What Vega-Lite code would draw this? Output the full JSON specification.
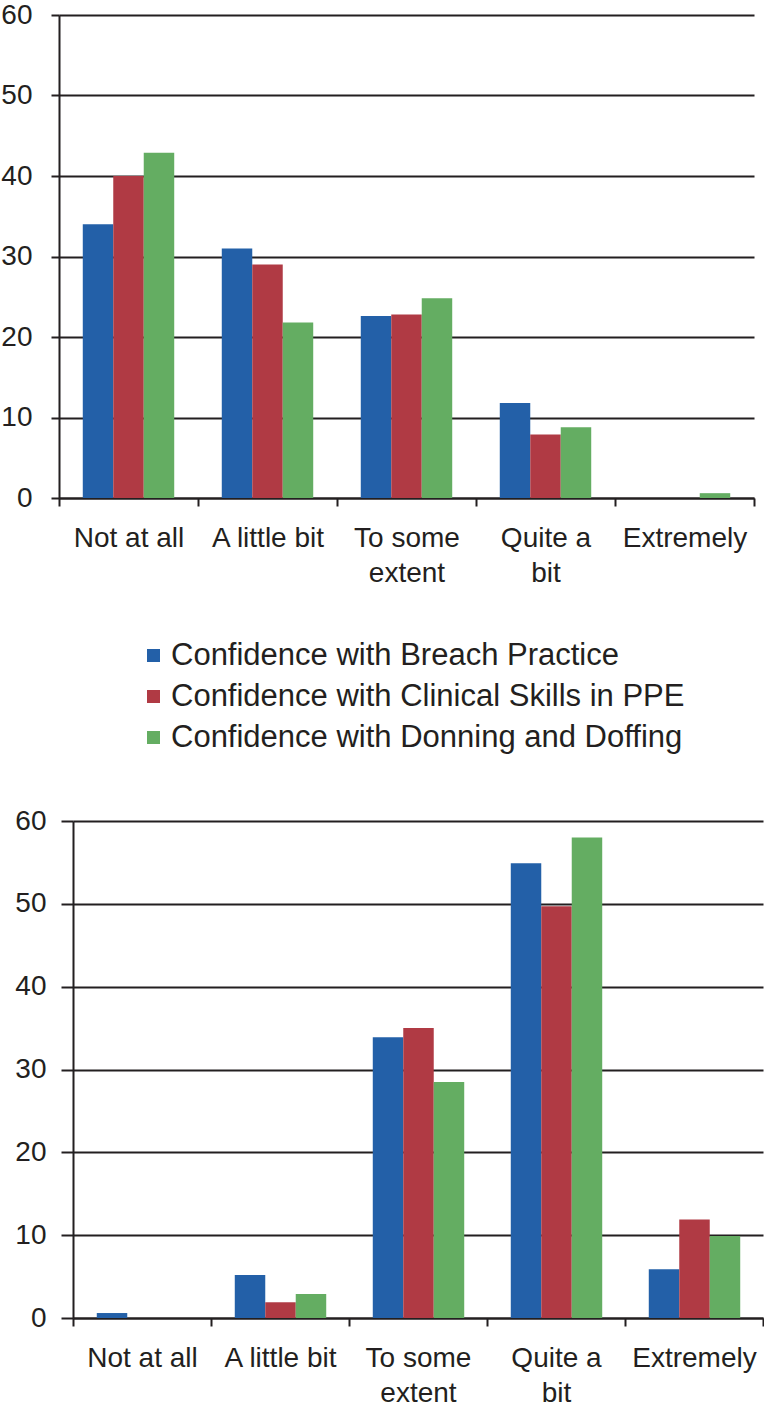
{
  "$schema": "https://vega.github.io/schema/vega-lite/v6.json",
  "background": "white",
  "padding": {"top": 1, "left": 0, "right": 0, "bottom": 0},
  "spacing": 54,
  "config": {
    "font": "Liberation Sans",
    "view": {"stroke": null},
    "axis": {
      "labelFont": "Liberation Sans",
      "labelFontSize": 28,
      "labelColor": "#231f20",
      "domainColor": "#231f20",
      "tickColor": "#231f20",
      "gridColor": "#231f20",
      "domainWidth": 2,
      "tickWidth": 2,
      "gridWidth": 2,
      "gridOpacity": 1,
      "title": null
    },
    "legend": {"labelFont": "Liberation Sans"}
  },
  "datasets": {
    "survey": [
      {"panel": "A", "level": "Not at all", "series": "Confidence with Breach Practice", "pct": 34.0},
      {"panel": "A", "level": "Not at all", "series": "Confidence with Clinical Skills in PPE", "pct": 40.0},
      {"panel": "A", "level": "Not at all", "series": "Confidence with Donning and Doffing", "pct": 42.9},
      {"panel": "A", "level": "A little bit", "series": "Confidence with Breach Practice", "pct": 31.0},
      {"panel": "A", "level": "A little bit", "series": "Confidence with Clinical Skills in PPE", "pct": 29.0},
      {"panel": "A", "level": "A little bit", "series": "Confidence with Donning and Doffing", "pct": 21.8},
      {"panel": "A", "level": "To some extent", "series": "Confidence with Breach Practice", "pct": 22.6},
      {"panel": "A", "level": "To some extent", "series": "Confidence with Clinical Skills in PPE", "pct": 22.8},
      {"panel": "A", "level": "To some extent", "series": "Confidence with Donning and Doffing", "pct": 24.8},
      {"panel": "A", "level": "Quite a bit", "series": "Confidence with Breach Practice", "pct": 11.8},
      {"panel": "A", "level": "Quite a bit", "series": "Confidence with Clinical Skills in PPE", "pct": 7.9},
      {"panel": "A", "level": "Quite a bit", "series": "Confidence with Donning and Doffing", "pct": 8.8},
      {"panel": "A", "level": "Extremely", "series": "Confidence with Breach Practice", "pct": 0},
      {"panel": "A", "level": "Extremely", "series": "Confidence with Clinical Skills in PPE", "pct": 0},
      {"panel": "A", "level": "Extremely", "series": "Confidence with Donning and Doffing", "pct": 0.6},
      {"panel": "B", "level": "Not at all", "series": "Confidence with Breach Practice", "pct": 0.6},
      {"panel": "B", "level": "Not at all", "series": "Confidence with Clinical Skills in PPE", "pct": 0},
      {"panel": "B", "level": "Not at all", "series": "Confidence with Donning and Doffing", "pct": 0},
      {"panel": "B", "level": "A little bit", "series": "Confidence with Breach Practice", "pct": 5.2},
      {"panel": "B", "level": "A little bit", "series": "Confidence with Clinical Skills in PPE", "pct": 1.9},
      {"panel": "B", "level": "A little bit", "series": "Confidence with Donning and Doffing", "pct": 2.9},
      {"panel": "B", "level": "To some extent", "series": "Confidence with Breach Practice", "pct": 33.9},
      {"panel": "B", "level": "To some extent", "series": "Confidence with Clinical Skills in PPE", "pct": 35.0},
      {"panel": "B", "level": "To some extent", "series": "Confidence with Donning and Doffing", "pct": 28.5},
      {"panel": "B", "level": "Quite a bit", "series": "Confidence with Breach Practice", "pct": 54.9},
      {"panel": "B", "level": "Quite a bit", "series": "Confidence with Clinical Skills in PPE", "pct": 49.7},
      {"panel": "B", "level": "Quite a bit", "series": "Confidence with Donning and Doffing", "pct": 58.0},
      {"panel": "B", "level": "Extremely", "series": "Confidence with Breach Practice", "pct": 5.9},
      {"panel": "B", "level": "Extremely", "series": "Confidence with Clinical Skills in PPE", "pct": 11.9},
      {"panel": "B", "level": "Extremely", "series": "Confidence with Donning and Doffing", "pct": 9.9}
    ]
  },
  "vconcat": [
    {
      "width": 695,
      "height": 483,
      "data": {"name": "survey"},
      "transform": [{"filter": "datum.panel == 'A'"}],
      "mark": {"type": "bar"},
      "encoding": {
        "x": {
          "field": "level", "type": "nominal",
          "sort": ["Not at all", "A little bit", "To some extent", "Quite a bit", "Extremely"],
          "scale": {"paddingInner": 0, "paddingOuter": 0},
          "axis": {
            "labelAngle": 0, "tickBand": "extent", "tickSize": 8, "labelPadding": 18,
            "labelLineHeight": 35,
            "labelExpr": "datum.label == 'To some extent' ? ['To some', 'extent'] : datum.label == 'Quite a bit' ? ['Quite a', 'bit'] : datum.label"
          }
        },
        "xOffset": {
          "field": "series", "type": "nominal",
          "scale": {"paddingInner": 0, "paddingOuter": 0.78}
        },
        "y": {
          "field": "pct", "type": "quantitative",
          "scale": {"domain": [0, 60], "nice": false},
          "axis": {"values": [0, 10, 20, 30, 40, 50, 60], "tickSize": 8, "labelPadding": 19, "grid": true}
        },
        "color": {
          "field": "series", "type": "nominal",
          "scale": {
            "domain": ["Confidence with Breach Practice", "Confidence with Clinical Skills in PPE", "Confidence with Donning and Doffing"],
            "range": ["#2360a8", "#b03a44", "#64ad62"]
          },
          "legend": {
            "orient": "none", "legendX": 79, "legendY": 625, "title": null,
            "symbolType": "square", "symbolSize": 169, "symbolStrokeWidth": 0,
            "labelFontSize": 31, "labelColor": "#231f20", "labelOffset": 2,
            "rowPadding": 9, "padding": 0, "labelLimit": 700
          }
        }
      }
    },
    {
      "width": 704,
      "height": 497,
      "data": {"name": "survey"},
      "transform": [{"filter": "datum.panel == 'B'"}],
      "mark": {"type": "bar"},
      "encoding": {
        "x": {
          "field": "level", "type": "nominal",
          "sort": ["Not at all", "A little bit", "To some extent", "Quite a bit", "Extremely"],
          "scale": {"paddingInner": 0, "paddingOuter": 0, "range": [14, 704]},
          "axis": {
            "labelAngle": 0, "tickBand": "extent", "tickSize": 8, "labelPadding": 18,
            "labelLineHeight": 35,
            "labelExpr": "datum.label == 'To some extent' ? ['To some', 'extent'] : datum.label == 'Quite a bit' ? ['Quite a', 'bit'] : datum.label"
          }
        },
        "xOffset": {
          "field": "series", "type": "nominal",
          "scale": {"paddingInner": 0, "paddingOuter": 0.78}
        },
        "y": {
          "field": "pct", "type": "quantitative",
          "scale": {"domain": [0, 60], "nice": false},
          "axis": {"values": [0, 10, 20, 30, 40, 50, 60], "tickSize": 12, "labelPadding": 15, "offset": -14, "grid": true}
        },
        "color": {
          "field": "series", "type": "nominal",
          "scale": {
            "domain": ["Confidence with Breach Practice", "Confidence with Clinical Skills in PPE", "Confidence with Donning and Doffing"],
            "range": ["#2360a8", "#b03a44", "#64ad62"]
          },
          "legend": null
        }
      }
    }
  ],
  "resolve": {"scale": {"color": "independent", "x": "independent", "y": "independent"}}
}
